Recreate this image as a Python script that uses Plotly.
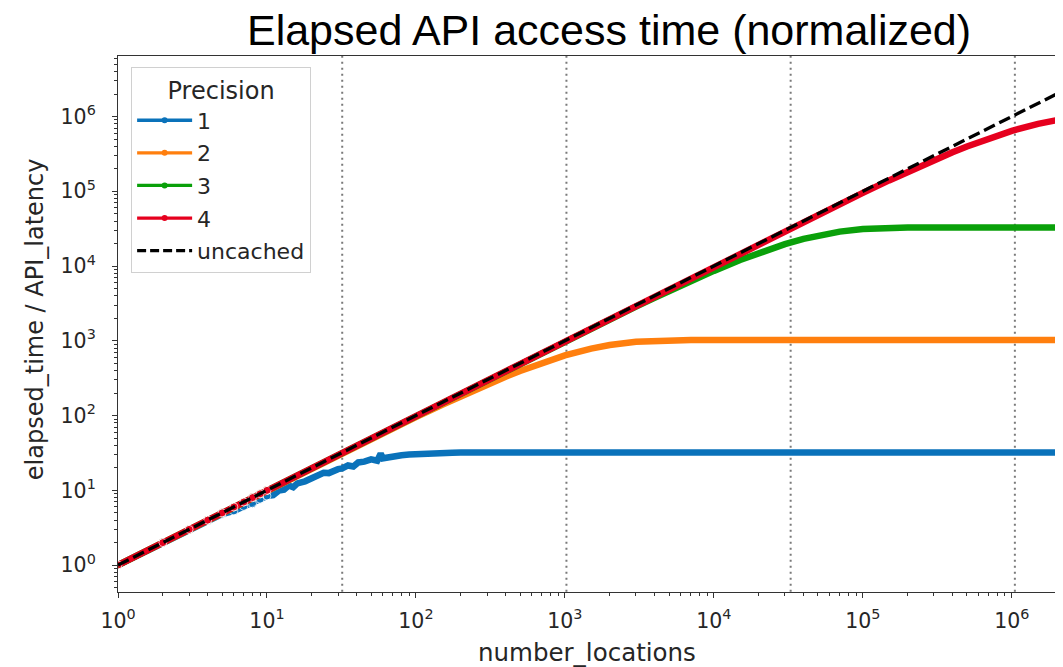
import plotly.graph_objects as go

# ---------------- data ----------------
blue_x = [1, 2, 3, 4, 5, 6, 7, 8, 9, 10, 11, 12, 13, 14, 15, 16, 18, 20, 22, 24, 26, 28, 30, 32,
          35, 38, 41, 45, 50, 55, 58, 60, 65, 70, 80, 90, 100, 115, 130, 150, 175, 200, 250, 300,
          400, 1000, 10000, 100000, 1000000, 2000000]
blue_y = [1, 2, 3, 3.9, 4.8, 5.3, 6.1, 6.6, 7.6, 8.4, 8.6, 9.9, 10.2, 11.6, 11.0, 12.4, 13.2, 14.6,
          15.3, 17.2, 17.0, 18.4, 19.2, 19.6, 21.5, 20.8, 23.6, 24.2, 25.9, 24.9, 31.0, 26.8, 27.9,
          28.3, 29.5, 30.1, 30.6, 31.2, 31.5, 31.7, 31.9, 32, 32, 32, 32, 32, 32, 32, 32, 32]

common_x = [1, 2, 3, 4, 5, 6, 7, 8, 9, 10, 12, 15, 20, 25, 30, 40, 50, 70, 100, 150, 200, 300, 400,
            500, 700, 1000, 1500, 2000, 3000, 4000, 5000, 7000, 10000, 15000, 20000, 30000, 40000,
            50000, 70000, 100000, 150000, 200000, 300000, 400000, 500000, 700000, 1000000,
            1500000, 2000000]
orange_y = [1, 2, 3, 4, 5, 6, 7, 8, 9, 9.95, 11.9, 14.9, 19.8, 24.7, 29.6, 39.2, 48.8, 67.7, 95.3,
            139.6, 181.7, 260, 331, 395, 507, 638, 787, 879, 969, 1003, 1016, 1023, 1024, 1024,
            1024, 1024, 1024, 1024, 1024, 1024, 1024, 1024, 1024, 1024, 1024, 1024, 1024, 1024, 1024]
green_y = [1, 2, 3, 4, 5, 6, 7, 8, 9, 10, 12, 15, 20, 25, 30, 40, 50, 69.9, 99.8, 149.7, 199.4,
           298.6, 397.6, 496.2, 692.6, 985, 1466, 1940, 2868, 3765, 4637, 6300, 8618, 12036, 14972,
           19650, 23101, 25644, 28898, 31218, 32431, 32695, 32764, 32768, 32768, 32768, 32768,
           32768, 32768]
red_y = [1, 2, 3, 4, 5, 6, 7, 8, 9, 10, 12, 15, 20, 25, 30, 40, 50, 70, 100, 150, 200, 300, 400,
         500, 700, 999.5, 1499, 1998, 2996, 3992, 4988, 6977, 9952, 14893, 19811, 29576, 39249,
         48838, 67674, 95380, 139800, 182075, 260900, 332530, 397600, 510700, 644600, 797800,
         892900]
uncached_x = [1, 2000000]
uncached_y = [1, 2000000]

series_names = ["1", "2", "3", "4"]
series_colors = ["#0a72ba", "#ff7f0e", "#0aa00a", "#e6001e"]
series_x = [blue_x, common_x, common_x, common_x]
series_y = [blue_y, orange_y, green_y, red_y]

vlines_x = [32, 1024, 32768, 1048576]

major_vals = [1, 10, 100, 1000, 10000, 100000, 1000000]
major_text = ["10<sup>0</sup>", "10<sup>1</sup>", "10<sup>2</sup>", "10<sup>3</sup>",
              "10<sup>4</sup>", "10<sup>5</sup>", "10<sup>6</sup>"]
minor_vals = [m * 10 ** e for e in range(-1, 7) for m in range(2, 10)]

TXT = "#262626"
FONT = "DejaVu Sans"

# ---------------- figure ----------------
fig = go.Figure()

for vx in vlines_x:
    fig.add_trace(go.Scatter(x=[vx, vx], y=[0.1, 1e8], mode="lines",
                             line=dict(color="#7a7a7a", width=2, dash="2px,4px"),
                             showlegend=False, hoverinfo="skip"))

for name, col, xs, ys in zip(series_names, series_colors, series_x, series_y):
    msize = [8 if v <= 10 else 0 for v in xs]
    fig.add_trace(go.Scatter(x=xs, y=ys, mode="lines+markers", name=name,
                             line=dict(color=col, width=6.5),
                             marker=dict(color=col, size=msize),
                             showlegend=False))

fig.add_trace(go.Scatter(x=uncached_x, y=uncached_y, mode="lines", name="uncached",
                         line=dict(color="black", width=3.3, dash="12px,5px"),
                         showlegend=False))

# legend entries
for name, col in zip(series_names, series_colors):
    fig.add_trace(go.Scatter(x=[None], y=[None], mode="lines+markers", name=name,
                             line=dict(color=col, width=3.3), marker=dict(color=col, size=6),
                             legendgroup=name))
fig.add_trace(go.Scatter(x=[None], y=[None], mode="lines", name="uncached",
                         line=dict(color="black", width=3.3, dash="9px,4px"),
                         legendgroup="uncached"))

axis_common = dict(
    type="log", showgrid=False, zeroline=False, showline=True, mirror=True, automargin=False,
    linecolor="#333333", linewidth=1.2, ticks="outside", ticklen=5, tickwidth=1.2,
    tickcolor="#333333", tickvals=major_vals, ticktext=major_text,
    tickfont=dict(family=FONT, size=20.5, color=TXT),
    minor=dict(ticks="outside", ticklen=3, tickwidth=0.9, tickcolor="#333333",
               tickvals=minor_vals, showgrid=False),
)

fig.update_xaxes(**axis_common, range=[0, 6.29], ticklabelstandoff=5)
fig.update_yaxes(**axis_common, range=[-0.36, 6.81], ticklabelstandoff=12)

# page body has an 8px margin: figure is 1055x659 so it fills the 1063x667 window
fig.update_layout(
    width=1055, height=659,
    margin=dict(l=110, r=8, t=48, b=75),
    plot_bgcolor="white", paper_bgcolor="white",
    title=dict(text="Elapsed API access time (normalized)", x=0.5697, xanchor="center",
               y=0.99, yanchor="top",
               font=dict(family="Liberation Sans", size=43, color="black")),
    legend=dict(x=0.014, y=0.979, xanchor="left", yanchor="top",
                bgcolor="rgba(255,255,255,0.9)", bordercolor="#d0d0d0", borderwidth=1,
                font=dict(family=FONT, size=22, color=TXT),
                title=dict(text="Precision", side="top center",
                           font=dict(family=FONT, size=24, color=TXT)),
                traceorder="grouped", tracegroupgap=1, itemwidth=55),
    showlegend=True,
    annotations=[
        dict(text="number_locations", xref="paper", yref="paper", x=0.5, y=-0.113,
             xanchor="center", yanchor="middle", showarrow=False,
             font=dict(family=FONT, size=24.5, color=TXT)),
        dict(text="elapsed_time / API_latency", xref="paper", yref="paper", x=-0.0886,
             y=0.509, xanchor="center", yanchor="middle", textangle=-90, showarrow=False,
             font=dict(family=FONT, size=24, color=TXT)),
    ],
)

fig.write_html("out.html")
